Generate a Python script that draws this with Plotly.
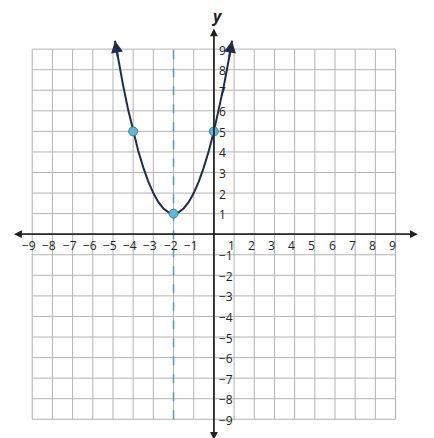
import plotly.graph_objects as go

ticks = [-9, -8, -7, -6, -5, -4, -3, -2, -1, 1, 2, 3, 4, 5, 6, 7, 8, 9]
grid = list(range(-9, 10))
curve_x = [-4.9, -4.75, -4.5, -4.25, -4, -3.75, -3.5, -3.25, -3, -2.75, -2.5, -2.25, -2,
           -1.75, -1.5, -1.25, -1, -0.75, -0.5, -0.25, 0, 0.25, 0.5, 0.75, 0.9]
curve_y = [9.41, 8.56, 7.25, 6.06, 5, 4.06, 3.25, 2.56, 2, 1.56, 1.25, 1.06, 1,
           1.06, 1.25, 1.56, 2, 2.56, 3.25, 4.06, 5, 6.06, 7.25, 8.56, 9.41]
pts_x = [-4, -2, 0]
pts_y = [5, 1, 5]
sym_x = -2

fig = go.Figure()
shapes = []
for g in grid:
    shapes.append(dict(type="line", x0=g, x1=g, y0=-9, y1=9, line=dict(color="#b3b3b3", width=1), layer="below"))
    shapes.append(dict(type="line", x0=-9, x1=9, y0=g, y1=g, line=dict(color="#b3b3b3", width=1), layer="below"))

fig.add_trace(go.Scatter(x=[sym_x, sym_x], y=[-9, 9], mode="lines",
                         line=dict(color="#4aa3b5", width=1.5, dash="dash")))
fig.add_trace(go.Scatter(x=curve_x, y=curve_y, mode="lines", line=dict(color="#1f2d4a", width=2)))
fig.add_trace(go.Scatter(x=pts_x, y=pts_y, mode="markers",
                         marker=dict(size=9, color="#5fb8d0", line=dict(color="#3a7f95", width=1))))

ann = []
def arrow(x, y, ax, ay, color="#1f2d4a", w=1.5):
    ann.append(dict(x=x, y=y, ax=ax, ay=ay, xref="x", yref="y", axref="x", ayref="y",
                    showarrow=True, arrowhead=2, arrowsize=1.2, arrowwidth=w, arrowcolor=color, text=""))
# axes
arrow(10.1, 0, -9.9, 0, "#222", 1.3)
arrow(-9.9, 0, 10.1, 0, "#222", 1.3)
arrow(0, 10.0, 0, -10, "#222", 1.3)
arrow(0, -10, 0, 10.0, "#222", 1.3)
# curve ends
arrow(curve_x[0], curve_y[0], -4.75, 8.56, "#1f2d4a", 2)
arrow(curve_x[-1], curve_y[-1], 0.75, 8.56, "#1f2d4a", 2)

for t in ticks:
    lab = str(t).replace("-", "−")
    ann.append(dict(x=t, y=0, xref="x", yref="y", text=lab, showarrow=False,
                    xshift=-3, yshift=-11, font=dict(size=12, color="#222")))
    ann.append(dict(x=0, y=t, xref="x", yref="y", text=lab, showarrow=False,
                    xanchor="left", xshift=3, yshift=-1, font=dict(size=12, color="#222")))
ann.append(dict(x=10.4, y=0, text="<i><b>x</b></i>", showarrow=False, xanchor="left", yshift=2,
                font=dict(size=16, color="#222")))
ann.append(dict(x=0, y=10.4, text="<i><b>y</b></i>", showarrow=False, xshift=3, yshift=4,
                font=dict(size=16, color="#222")))

fig.update_layout(width=434, height=438, margin=dict(l=0, r=0, t=0, b=0),
                  plot_bgcolor="white", paper_bgcolor="white", showlegend=False,
                  shapes=shapes, annotations=ann, font=dict(family="Open Sans"),
                  xaxis=dict(range=[-10.2, 11.3], visible=False),
                  yaxis=dict(range=[-10.3, 11.0], visible=False))
fig.write_html("out.html")
